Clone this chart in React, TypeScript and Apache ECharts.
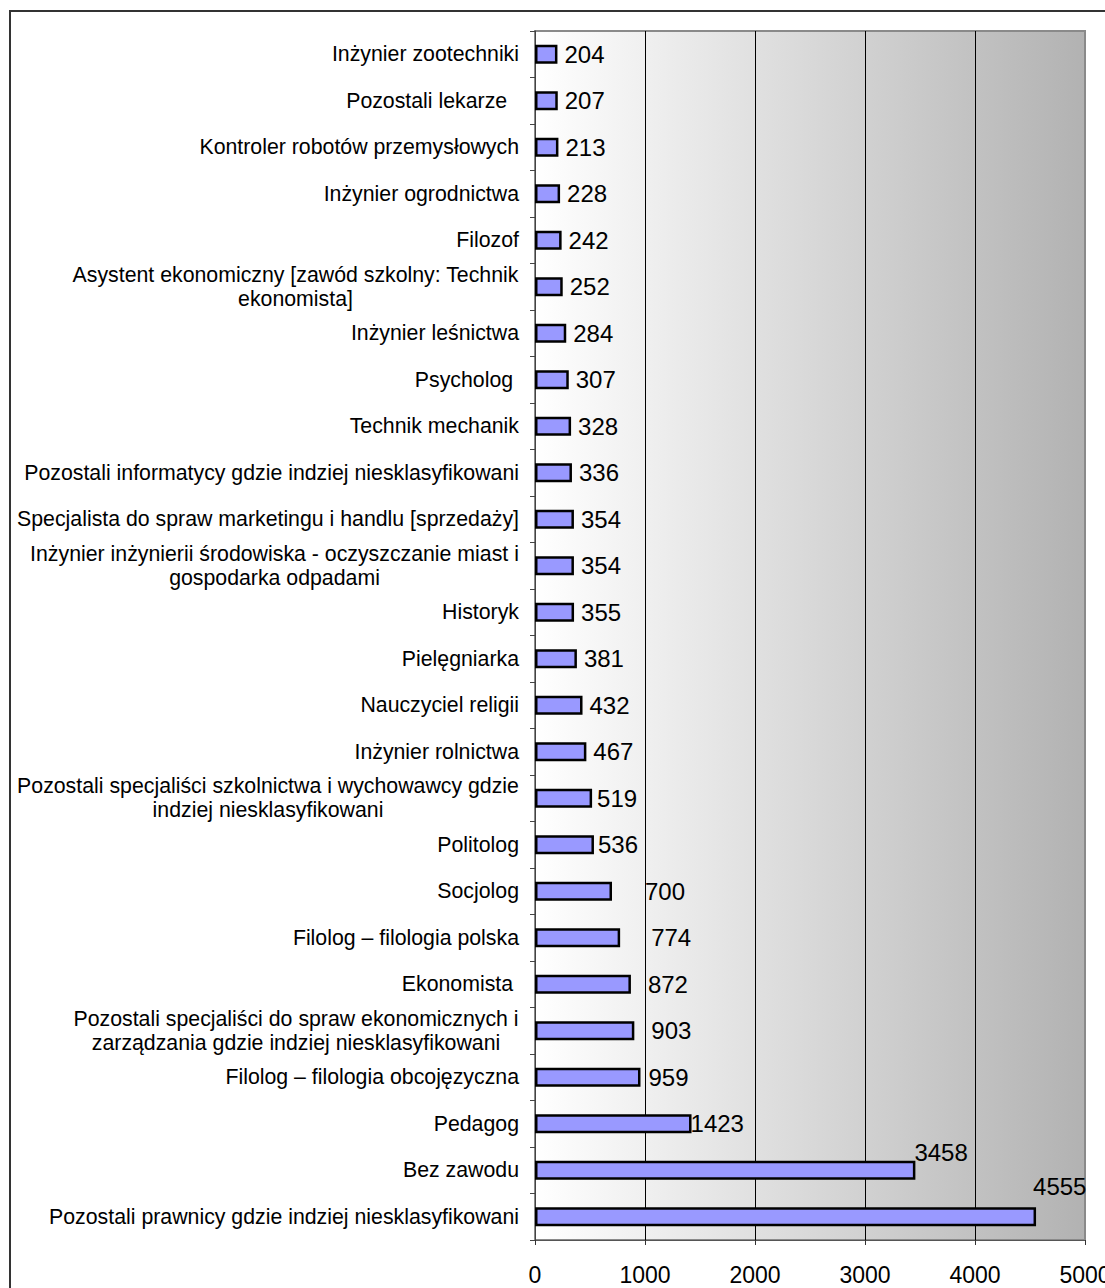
import React, { useEffect, useRef } from "react";
import * as echarts from "echarts";

const categories: string[] = [
  "Inżynier zootechniki",
  "Pozostali lekarze  ",
  "Kontroler robotów przemysłowych",
  "Inżynier ogrodnictwa",
  "Filozof",
  "Asystent ekonomiczny [zawód szkolny: Technik\nekonomista]",
  "Inżynier leśnictwa",
  "Psycholog ",
  "Technik mechanik",
  "Pozostali informatycy gdzie indziej niesklasyfikowani",
  "Specjalista do spraw marketingu i handlu [sprzedaży]",
  "Inżynier inżynierii środowiska - oczyszczanie miast i\ngospodarka odpadami",
  "Historyk",
  "Pielęgniarka",
  "Nauczyciel religii",
  "Inżynier rolnictwa",
  "Pozostali specjaliści szkolnictwa i wychowawcy gdzie\nindziej niesklasyfikowani",
  "Politolog",
  "Socjolog",
  "Filolog – filologia polska",
  "Ekonomista ",
  "Pozostali specjaliści do spraw ekonomicznych i\nzarządzania gdzie indziej niesklasyfikowani",
  "Filolog – filologia obcojęzyczna",
  "Pedagog",
  "Bez zawodu",
  "Pozostali prawnicy gdzie indziej niesklasyfikowani",
];

const values: number[] = [
  204, 207, 213, 228, 242, 252, 284, 307, 328, 336, 354, 354, 355, 381, 432,
  467, 519, 536, 700, 774, 872, 903, 959, 1423, 3458, 4555,
];

const xMin = 0;
const xMax = 5000;
const xStep = 1000;

// label nudges (styling only), keyed by category index
const labelNudges: Record<number, [number, number]> = {
  16: [-2, 0],
  17: [-3, 0],
  18: [26, 0],
  19: [24, 0],
  20: [10, 0],
  21: [10, 0],
  22: [1, 0],
  23: [-8, 0],
  24: [-8, -18],
  25: [-10, -30],
};

const FONT = '"Liberation Sans", Arial, Helvetica, sans-serif';
const CAT_SIZE = 21.3;

function measure(text: string, size: number): number {
  const ctx = document.createElement("canvas").getContext("2d");
  if (!ctx) return text.length * size * 0.5;
  ctx.font = `${size}px "Liberation Sans"`;
  return ctx.measureText(text).width;
}

export default function App() {
  const ref = useRef<HTMLDivElement>(null);

  useEffect(() => {
    if (!ref.current) return;
    const chart = echarts.init(ref.current, undefined, { renderer: "svg" });

    const rich: Record<string, any> = {};
    categories.forEach((c, i) => {
      if (c.includes("\n")) {
        const lines = c.split("\n");
        const w = Math.ceil(Math.max(...lines.map((l) => measure(l, CAT_SIZE))));
        rich["m" + i] = {
          width: w,
          align: "center",
          fontSize: CAT_SIZE,
          lineHeight: 24,
          fontFamily: FONT,
          color: "#000",
        };
      }
    });

    const option: any = {
      animation: false,
      backgroundColor: "#ffffff",
      grid: {
        show: true,
        left: 535,
        top: 31,
        right: 20,
        bottom: 48,
        containLabel: false,
        outerBoundsMode: "none",
        backgroundColor: new echarts.graphic.LinearGradient(0, 0, 1, 0, [
          { offset: 0, color: "#ffffff" },
          { offset: 1, color: "#b2b2b2" },
        ]),
        borderColor: "#8a8a8a",
        borderWidth: 2,
      },
      xAxis: {
        type: "value",
        min: xMin,
        max: xMax,
        interval: xStep,
        axisLine: { show: true, lineStyle: { color: "#555", width: 1 } },
        axisTick: { show: true, length: 5, lineStyle: { color: "#333" } },
        axisLabel: {
          fontSize: 23,
          fontFamily: FONT,
          color: "#000",
          margin: 23,
          lineHeight: 23,
          hideOverlap: false,
          showMaxLabel: true,
          showMinLabel: true,
          formatter: (v: number) => String(v),
        },
        splitLine: {
          show: true,
          showMinLine: false,
          showMaxLine: false,
          lineStyle: { color: "#000", width: 1 },
        },
      },
      yAxis: {
        type: "category",
        inverse: true,
        data: categories,
        axisLine: { show: true, lineStyle: { color: "#444", width: 1 } },
        axisTick: { show: true, length: 5, interval: 0, lineStyle: { color: "#444" } },
        splitLine: { show: false },
        axisLabel: {
          interval: 0,
          margin: 16,
          fontSize: CAT_SIZE,
          lineHeight: 24,
          fontFamily: FONT,
          color: "#000",
          rich,
          formatter: (value: string, index: number) => {
            if (value.includes("\n")) {
              return value
                .split("\n")
                .map((l) => `{m${index}|${l}}`)
                .join("\n");
            }
            return value;
          },
        },
      },
      series: [
        {
          type: "bar",
          barWidth: 19,
          data: values.map((v, i) => {
            const nudge = labelNudges[i];
            return nudge ? { value: v, label: { offset: nudge } } : { value: v };
          }),
          itemStyle: { color: "#9999ff", borderColor: "#000", borderWidth: 2.5 },
          label: {
            show: true,
            position: "right",
            distance: 7,
            fontSize: 24,
            fontFamily: FONT,
            color: "#000",
          },
        },
      ],
      graphic: [
        {
          type: "rect",
          silent: true,
          z: 100,
          shape: { x: 10, y: 11, width: 1300, height: 1400 },
          style: { fill: "transparent", stroke: "#333", lineWidth: 2 },
        },
      ],
    };

    chart.setOption(option);
    return () => chart.dispose();
  }, []);

  return (
    <div
      ref={ref}
      style={{ position: "absolute", left: 0, top: 0, width: 1105, height: 1288 }}
    />
  );
}
